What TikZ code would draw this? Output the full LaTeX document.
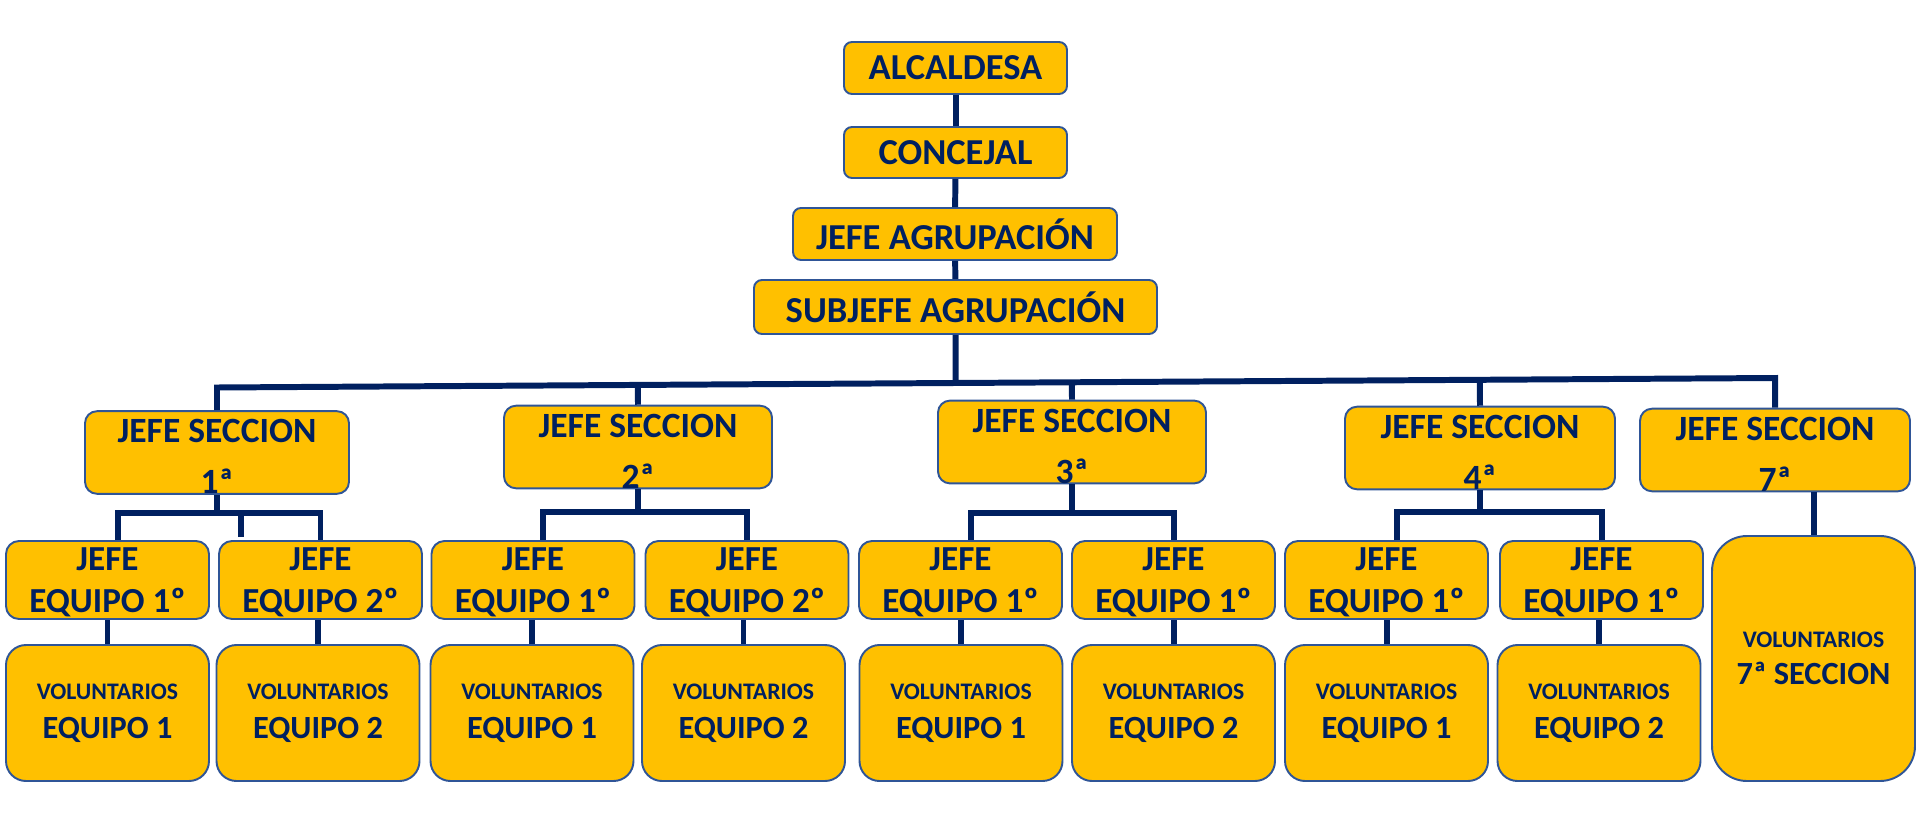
\documentclass[tikz,border=0pt]{standalone}
\usepackage{fontspec}
\setmainfont{Carlito}
\usetikzlibrary{calc}
\definecolor{oro}{RGB}{255,192,0}
\definecolor{marino}{RGB}{0,32,96}
\definecolor{borde}{RGB}{47,85,151}
\tikzset{
  caja/.style={rectangle, draw=borde, line width=0.55pt, fill=oro, text=marino, align=center, inner sep=0pt},
  cargo/.style={caja, rounded corners=0.8mm, font=\fontsize{10.4}{12}\selectfont\bfseries},
  seccion/.style={caja, rounded corners=1.2mm, minimum width=2.68cm, minimum height=0.78cm, font=\fontsize{10.1}{14.5}\selectfont\bfseries},
  equipo/.style={caja, rounded corners=1.3mm, minimum width=2.03cm, minimum height=0.78cm, font=\fontsize{10}{12}\selectfont\bfseries},
  volunt/.style={caja, rounded corners=2mm, minimum width=2.03cm, minimum height=1.36cm, font=\fontsize{9.2}{11.2}\selectfont\bfseries},
  link/.style={draw=marino, line width=1.7pt},
}
\newcommand{\voltxt}[1]{{\fontsize{6.75}{8}\selectfont VOLUNTARIOS}\\#1}
\newcommand{\sectxt}[1]{\rule{0pt}{9pt}JEFE SECCION\\#1}
\newcommand{\jeftxt}[1]{\rule{0pt}{8pt}JEFE\\EQUIPO #1}

\begin{document}
\begin{tikzpicture}
\useasboundingbox (0,0) rectangle (19.2,-8.23);
\node[cargo, minimum width=2.23cm, minimum height=0.52cm] (alc) at (9.555,-0.68) {ALCALDESA};
\node[cargo, minimum width=2.23cm, minimum height=0.51cm] (conc) at (9.555,-1.525) {CONCEJAL};
\node[cargo, minimum width=3.24cm, minimum height=0.52cm] (jefeag) at (9.55,-2.34) {JEFE AGRUPACIÓN};
\node[cargo, minimum width=4.03cm, minimum height=0.54cm] (subjefe) at (9.555,-3.07) {SUBJEFE AGRUPACIÓN};
\node[seccion, minimum width=2.64cm, minimum height=0.79cm] (js1) at (2.17,-4.525) {\sectxt{1ª}};
\node[seccion] (js2) at (6.38,-4.47) {\sectxt{2ª}};
\node[seccion] (js3) at (10.72,-4.42) {\sectxt{3ª}};
\node[seccion, minimum width=2.70cm] (js4) at (14.80,-4.48) {\sectxt{4ª}};
\node[seccion, minimum width=2.70cm] (js7) at (17.75,-4.50) {\sectxt{7ª}};
\node[equipo] (e11) at (1.075,-5.80) {\jeftxt{1º}};
\node[equipo] (e12) at (3.205,-5.80) {\jeftxt{2º}};
\node[equipo] (e21) at (5.33,-5.80) {\jeftxt{1º}};
\node[equipo] (e22) at (7.47,-5.80) {\jeftxt{2º}};
\node[equipo] (e31) at (9.605,-5.80) {\jeftxt{1º}};
\node[equipo] (e32) at (11.735,-5.80) {\jeftxt{1º}};
\node[equipo] (e41) at (13.865,-5.80) {\jeftxt{1º}};
\node[equipo] (e42) at (16.015,-5.80) {\jeftxt{1º}};
\node[volunt] (v11) at (1.075,-7.13) {\voltxt{EQUIPO 1}};
\node[volunt] (v12) at (3.18,-7.13) {\voltxt{EQUIPO 2}};
\node[volunt] (v21) at (5.32,-7.13) {\voltxt{EQUIPO 1}};
\node[volunt] (v22) at (7.435,-7.13) {\voltxt{EQUIPO 2}};
\node[volunt] (v31) at (9.61,-7.13) {\voltxt{EQUIPO 1}};
\node[volunt] (v32) at (11.735,-7.13) {\voltxt{EQUIPO 2}};
\node[volunt] (v41) at (13.865,-7.13) {\voltxt{EQUIPO 1}};
\node[volunt] (v42) at (15.99,-7.13) {\voltxt{EQUIPO 2}};
\node[volunt, rounded corners=3.5mm, minimum height=2.45cm, font=\fontsize{9.2}{10.5}\selectfont\bfseries] (v7) at (18.135,-6.585) {\voltxt{7ª SECCION}};
\coordinate (busL) at (2.17,-3.875);
\coordinate (busR) at (17.75,-3.78);
\coordinate (r1) at (2.17,-5.13);
\coordinate (r2) at (6.38,-5.12);
\coordinate (r3) at (10.72,-5.13);
\coordinate (r4) at (14.80,-5.12);
\coordinate (stub) at (2.41,-5.37);
\draw[link] (alc) to (conc);
\draw[link] (conc) to (jefeag);
\draw[link] (jefeag) to (subjefe);
\draw[link] (subjefe) to ($(busL)!(subjefe.south)!(busR)$);
\draw[link] (js1.north) -- (busL) -- (busR) -- (js7.north);
\draw[link] (js2.north) to ($(busL)!(js2.north)!(busR)$);
\draw[link] (js3.north) to ($(busL)!(js3.north)!(busR)$);
\draw[link] (js4.north) to ($(busL)!(js4.north)!(busR)$);
\draw[link] (js1) to (r1);
\draw[link] (js2) to (r2);
\draw[link] (js3) to (r3);
\draw[link] (js4) to (r4);
\draw[link] ([xshift=1.05mm]e11.north) |- (r1) -| (e12.north);
\draw[link] ([xshift=1mm]e21.north) |- (r2) -| (e22.north);
\draw[link] ([xshift=1.05mm]e31.north) |- (r3) -| (e32.north);
\draw[link] ([xshift=1.05mm]e41.north) |- (r4) -| (e42.north);
\draw[link] (stub) to (stub |- r1);
\draw[link] (v11.north) to (v11.north |- e11.south);
\draw[link] (v12.north) to (v12.north |- e12.south);
\draw[link] (v21.north) to (v21.north |- e21.south);
\draw[link] (v22.north) to (v22.north |- e22.south);
\draw[link] (v31.north) to (v31.north |- e31.south);
\draw[link] (v32.north) to (v32.north |- e32.south);
\draw[link] (v41.north) to (v41.north |- e41.south);
\draw[link] (v42.north) to (v42.north |- e42.south);
\draw[link] (v7.north) to (v7.north |- js7.south);
\end{tikzpicture}
\end{document}
